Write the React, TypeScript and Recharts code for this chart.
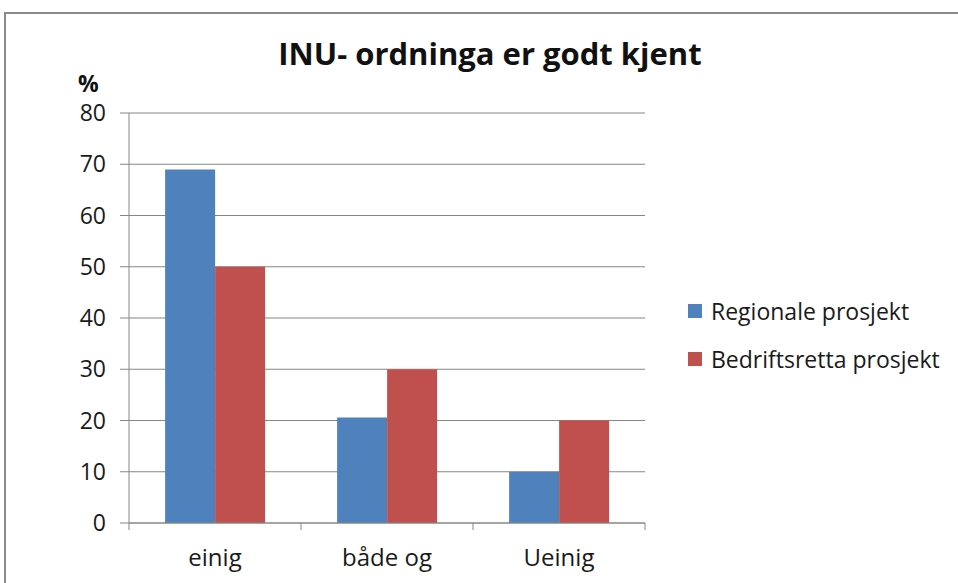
import React from "react";
import { BarChart, Bar, XAxis, YAxis, CartesianGrid } from "recharts";

const categories = ["einig", "både og", "Ueinig"];
const regionale = [69, 20.6, 10];
const bedriftsretta = [50, 30, 20];
const yTicks = [0, 10, 20, 30, 40, 50, 60, 70, 80];
const seriesNames = ["Regionale prosjekt", "Bedriftsretta prosjekt"];
const colors = ["#4F81BD", "#C0504D"];

const data = categories.map((c, i) => ({
  name: c,
  regionale: regionale[i],
  bedriftsretta: bedriftsretta[i],
}));

const W = 958;
const H = 583;
const PLOT_LEFT = 129;
const PLOT_RIGHT = 645;
const BAND = (PLOT_RIGHT - PLOT_LEFT) / categories.length;
const FONT = "'Open Sans', sans-serif";
const GRID = "#868686";
const TEXT = "#1a1a1a";

const XTick = (props: any) => {
  const { x, y, payload, index } = props;
  return (
    <g>
      <line x1={x - BAND / 2} x2={x - BAND / 2} y1={y} y2={y + 7} stroke={GRID} />
      {index === categories.length - 1 && (
        <line x1={x + BAND / 2} x2={x + BAND / 2} y1={y} y2={y + 7} stroke={GRID} />
      )}
      <text x={x} y={y + 43} textAnchor="middle" fontSize={24} fontFamily={FONT} fill={TEXT}>
        {payload.value}
      </text>
    </g>
  );
};

const LegendBox = () => (
  <div style={{ position: "absolute", left: 688, top: 296, fontFamily: FONT, fontSize: 23, color: TEXT }}>
    {seriesNames.map((n, i) => (
      <div key={n} style={{ display: "flex", alignItems: "center", height: 30, marginBottom: i === 0 ? 18 : 0, whiteSpace: "nowrap" }}>
        <span style={{ display: "inline-block", width: 14, height: 14, background: colors[i], marginRight: 9 }} />
        <span>{n}</span>
      </div>
    ))}
  </div>
);

export default function App() {
  return (
    <div style={{ position: "absolute", left: 0, top: 0, width: W, height: H, overflow: "hidden", background: "#fff" }}>
      <div style={{ position: "absolute", left: 4, top: 12, width: 1200, height: 1000, borderLeft: "2px solid #8a8a8a", borderTop: "2px solid #8a8a8a" }} />
      <div style={{ position: "absolute", left: 0, width: 980, top: 32, textAlign: "center", fontFamily: FONT, fontWeight: 700, fontSize: 31, color: "#111" }}>
        INU- ordninga er godt kjent
      </div>
      <div style={{ position: "absolute", left: 78, top: 72, lineHeight: 1, fontFamily: FONT, fontWeight: 700, fontSize: 23, color: "#111" }}>%</div>
      <BarChart
        width={W}
        height={H}
        data={data}
        margin={{ top: 113, right: W - PLOT_RIGHT, bottom: 0, left: 0 }}
        barCategoryGap="21%"
        barGap={0}
      >
        <CartesianGrid horizontal vertical={false} stroke={GRID} strokeWidth={1} />
        <XAxis
          dataKey="name"
          height={60}
          axisLine={{ stroke: GRID }}
          tickLine={false}
          tickSize={0}
          tickMargin={0}
          tick={<XTick />}
          interval={0}
        />
        <YAxis
          width={PLOT_LEFT}
          domain={[0, 80]}
          ticks={yTicks}
          interval={0}
          axisLine={{ stroke: GRID }}
          tickLine={{ stroke: GRID }}
          tickSize={9}
          tickMargin={14}
          tick={{ fontSize: 23, fontFamily: FONT, fill: TEXT }}
        />
        <Bar dataKey="regionale" name={seriesNames[0]} fill={colors[0]} isAnimationActive={false} />
        <Bar dataKey="bedriftsretta" name={seriesNames[1]} fill={colors[1]} isAnimationActive={false} />
      </BarChart>
      <LegendBox />
    </div>
  );
}
